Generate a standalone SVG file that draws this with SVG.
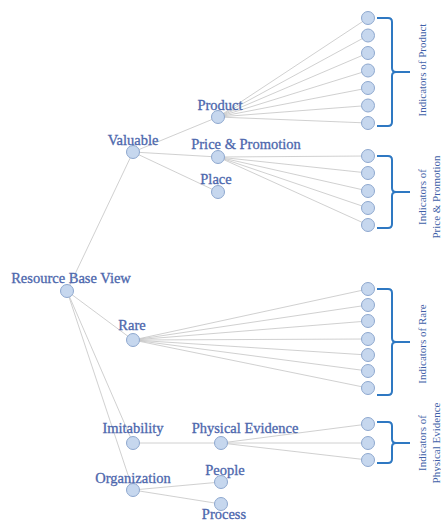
<svg xmlns="http://www.w3.org/2000/svg" width="441" height="523" viewBox="0 0 441 523">
<style>
.e{stroke:#c4c4c4;stroke-width:0.8;fill:none}
.n circle{fill:#c6d7ee;stroke:#8ea8cf;stroke-width:1}
.t{font-family:"Liberation Serif","Times New Roman",serif;font-size:14.5px;fill:#4d67ad;stroke:#4d67ad;stroke-width:0.3;text-anchor:middle}
.b{stroke:#2e78c2;stroke-width:2;fill:none}
.r{font-family:"Liberation Serif","Times New Roman",serif;font-size:11px;fill:#3f5fa8;text-anchor:middle}
</style>
<rect width="441" height="523" fill="#ffffff"/>
<g id="connectors">
<line class="e" x1="67" y1="291" x2="133" y2="152"/>
<line class="e" x1="67" y1="291" x2="133" y2="340"/>
<line class="e" x1="67" y1="291" x2="133" y2="443"/>
<line class="e" x1="67" y1="291" x2="133" y2="490"/>
<line class="e" x1="133" y1="152" x2="218" y2="117"/>
<line class="e" x1="133" y1="152" x2="218" y2="157"/>
<line class="e" x1="133" y1="152" x2="218" y2="192"/>
<line class="e" x1="218" y1="117" x2="368" y2="18"/>
<line class="e" x1="218" y1="117" x2="368" y2="35.5"/>
<line class="e" x1="218" y1="117" x2="368" y2="53"/>
<line class="e" x1="218" y1="117" x2="368" y2="70.5"/>
<line class="e" x1="218" y1="117" x2="368" y2="88"/>
<line class="e" x1="218" y1="117" x2="368" y2="105.5"/>
<line class="e" x1="218" y1="117" x2="368" y2="123"/>
<line class="e" x1="218" y1="157" x2="368" y2="156"/>
<line class="e" x1="218" y1="157" x2="368" y2="173"/>
<line class="e" x1="218" y1="157" x2="368" y2="191"/>
<line class="e" x1="218" y1="157" x2="368" y2="208"/>
<line class="e" x1="218" y1="157" x2="368" y2="225"/>
<line class="e" x1="133" y1="340" x2="368" y2="289"/>
<line class="e" x1="133" y1="340" x2="368" y2="305"/>
<line class="e" x1="133" y1="340" x2="368" y2="321"/>
<line class="e" x1="133" y1="340" x2="368" y2="339"/>
<line class="e" x1="133" y1="340" x2="368" y2="355"/>
<line class="e" x1="133" y1="340" x2="368" y2="371"/>
<line class="e" x1="133" y1="340" x2="368" y2="388"/>
<line class="e" x1="133" y1="443" x2="221" y2="443"/>
<line class="e" x1="221" y1="443" x2="368" y2="424"/>
<line class="e" x1="221" y1="443" x2="368" y2="443"/>
<line class="e" x1="221" y1="443" x2="368" y2="460"/>
<line class="e" x1="133" y1="490" x2="221" y2="482"/>
<line class="e" x1="133" y1="490" x2="221" y2="504"/>
</g>
<g id="rbv" class="n"><circle cx="67" cy="291" r="6.5"/><text class="t" x="71" y="283">Resource Base View</text></g>
<g id="valuable" class="n"><circle cx="133" cy="152" r="6.5"/><text class="t" x="133" y="145">Valuable</text></g>
<g id="rare" class="n"><circle cx="133" cy="340" r="6.5"/><text class="t" x="132" y="330">Rare</text></g>
<g id="imitability" class="n"><circle cx="133" cy="443" r="6.5"/><text class="t" x="133" y="433">Imitability</text></g>
<g id="organization" class="n"><circle cx="133" cy="490" r="6.5"/><text class="t" x="133" y="483">Organization</text></g>
<g id="product" class="n"><circle cx="218" cy="117" r="6.5"/><text class="t" x="220" y="110">Product</text></g>
<g id="price" class="n"><circle cx="218" cy="157" r="6.5"/><text class="t" x="246" y="149">Price &amp; Promotion</text></g>
<g id="place" class="n"><circle cx="218" cy="192" r="6.5"/><text class="t" x="216" y="184">Place</text></g>
<g id="physical" class="n"><circle cx="221" cy="443" r="6.5"/><text class="t" x="245" y="433">Physical Evidence</text></g>
<g id="people" class="n"><circle cx="221" cy="482" r="6.5"/><text class="t" x="225" y="475">People</text></g>
<g id="process" class="n"><circle cx="221" cy="504" r="6.5"/><text class="t" x="224" y="519">Process</text></g>
<g id="product-indicators" class="n">
<circle cx="368" cy="18" r="6.5"/><circle cx="368" cy="35.5" r="6.5"/><circle cx="368" cy="53" r="6.5"/><circle cx="368" cy="70.5" r="6.5"/><circle cx="368" cy="88" r="6.5"/><circle cx="368" cy="105.5" r="6.5"/><circle cx="368" cy="123" r="6.5"/>
</g>
<g id="price-indicators" class="n">
<circle cx="368" cy="156" r="6.5"/><circle cx="368" cy="173" r="6.5"/><circle cx="368" cy="191" r="6.5"/><circle cx="368" cy="208" r="6.5"/><circle cx="368" cy="225" r="6.5"/>
</g>
<g id="rare-indicators" class="n">
<circle cx="368" cy="289" r="6.5"/><circle cx="368" cy="305" r="6.5"/><circle cx="368" cy="321" r="6.5"/><circle cx="368" cy="339" r="6.5"/><circle cx="368" cy="355" r="6.5"/><circle cx="368" cy="371" r="6.5"/><circle cx="368" cy="388" r="6.5"/>
</g>
<g id="physical-indicators" class="n">
<circle cx="368" cy="424" r="6.5"/><circle cx="368" cy="443" r="6.5"/><circle cx="368" cy="460" r="6.5"/>
</g>
<g id="bracket-product">
<path class="b" d="M377,18 H388 Q392,18 392,22 V68 Q392,72 396,72 H410 M396,72 Q392,72 392,76 V122 Q392,126 388,126 H377"/>
<text class="r" transform="translate(426,70) rotate(-90)">Indicators of Product</text>
</g>
<g id="bracket-price">
<path class="b" d="M377,156 H388 Q392,156 392,160 V188 Q392,192 396,192 H410 M396,192 Q392,192 392,196 V224 Q392,228 388,228 H377"/>
<text class="r" transform="translate(426,197) rotate(-90)">Indicators of</text>
<text class="r" transform="translate(440,197) rotate(-90)">Price &amp; Promotion</text>
</g>
<g id="bracket-rare">
<path class="b" d="M377,289 H388 Q392,289 392,293 V338 Q392,342 396,342 H410 M396,342 Q392,342 392,346 V391 Q392,395 388,395 H377"/>
<text class="r" transform="translate(426,344) rotate(-90)">Indicators of Rare</text>
</g>
<g id="bracket-physical">
<path class="b" d="M377,422 H388 Q392,422 392,426 V439 Q392,443 396,443 H410 M396,443 Q392,443 392,447 V459 Q392,463 388,463 H377"/>
<text class="r" transform="translate(426,443) rotate(-90)">Indicators of</text>
<text class="r" transform="translate(440,443) rotate(-90)">Physical Evidence</text>
</g>
</svg>
